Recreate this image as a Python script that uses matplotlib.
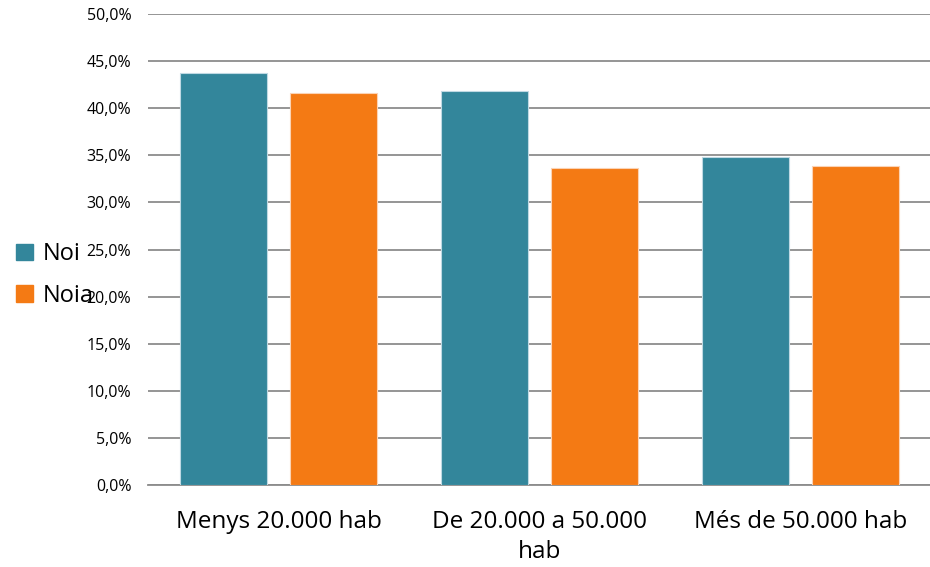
import numpy as np
import matplotlib
matplotlib.use("Agg")
import matplotlib.pyplot as plt
from matplotlib.patches import Patch
from matplotlib.ticker import FuncFormatter

categories = ["Menys 20.000 hab", "De 20.000 a 50.000\nhab", "Més de 50.000 hab"]
noi = [43.7, 41.8, 34.8]
noia = [41.6, 33.7, 33.9]
series_names = ["Noi", "Noia"]
teal = "#33869B"
orange = "#F47A14"

plt.rcParams['font.family'] = ['Open Sans', 'DejaVu Sans']

fig = plt.figure(figsize=(9.3, 5.67), dpi=100)
ax = fig.add_axes([148/930, (567-485)/567, 783/930, 471/567])

x = np.arange(len(categories))
w = 0.333
ax.bar(x - 0.209, noi, w, color=teal, edgecolor="#BFD9E3", linewidth=0.8, zorder=3)
ax.bar(x + 0.209, noia, w, color=orange, edgecolor="#FBD3B5", linewidth=0.8, zorder=3)

ax.set_xlim(-0.5, 2.5)
ax.set_ylim(0, 50)
ax.set_yticks(np.arange(0, 51, 5))
ax.yaxis.set_major_formatter(FuncFormatter(lambda v, p: f"{v:.1f}%".replace(".", ",")))
ax.grid(axis="y", color="#8C8C8C", linewidth=1.3, zorder=0)
for s in ["top", "right", "left"]:
    ax.spines[s].set_visible(False)
ax.spines["bottom"].set_color("#8C8C8C")
ax.spines["bottom"].set_linewidth(1.3)
ax.tick_params(axis="y", length=0, pad=12, labelsize=11.5)
ax.tick_params(axis="x", length=0, pad=18, labelsize=17.5)
ax.set_xticks(x)
ax.set_xticklabels(categories, linespacing=1.35)

handles = [Patch(color=teal), Patch(color=orange)]
fig.legend(handles, series_names, loc="center left", bbox_to_anchor=(0.005, 0.515),
           frameon=False, fontsize=17, handlelength=0.7, handleheight=0.7,
           handletextpad=0.4, labelspacing=0.75, borderpad=0)

fig.savefig("out.png", dpi=100)
